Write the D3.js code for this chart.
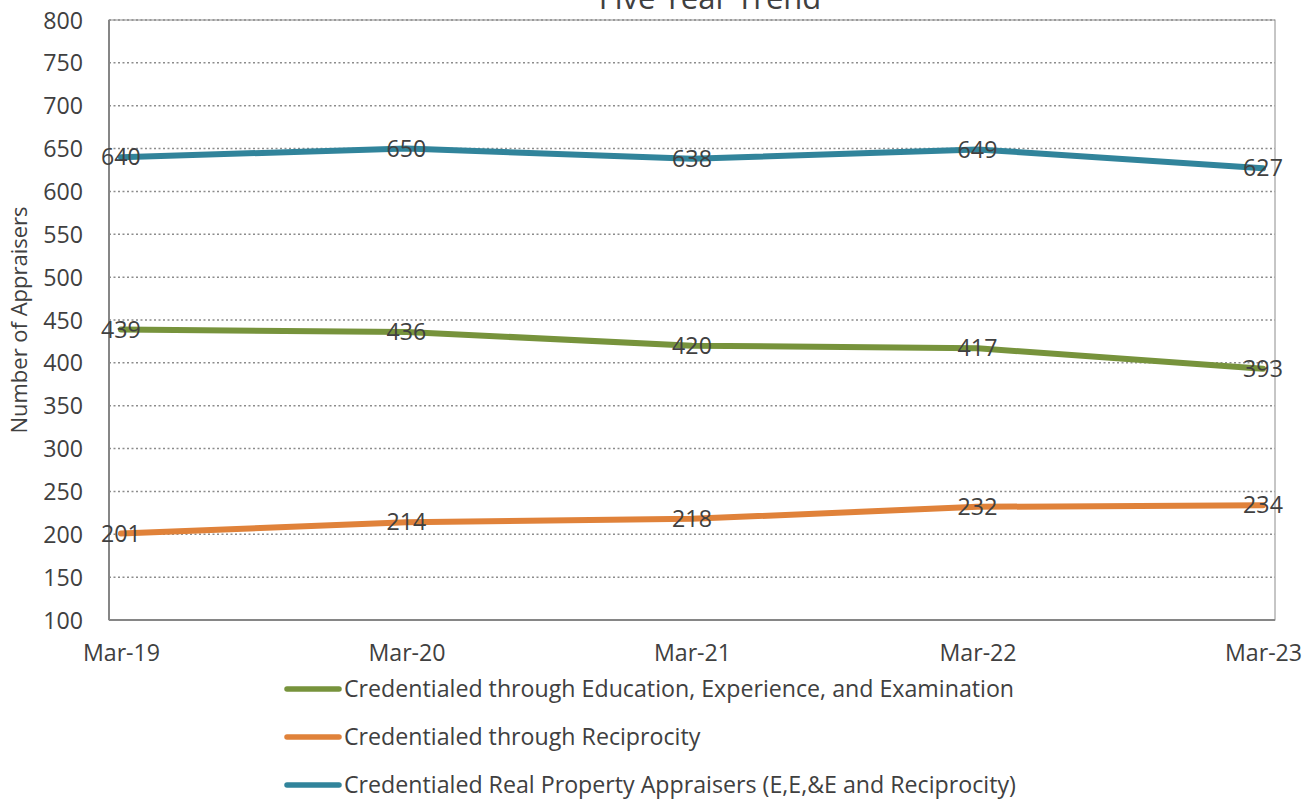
<!DOCTYPE html>
<html>
<head>
<meta charset="utf-8">
<script src="https://cdn.jsdelivr.net/npm/d3@7"></script>
<style>
  html, body { margin: 0; padding: 0; background: #fff; }
  svg { display: block; }
  svg text { font-family: "Open Sans", "Noto Sans", sans-serif; }
</style>
</head>
<body>
<svg id="chart" width="1315" height="801"></svg>
<script>
// Appraiser counts by year, March of each year
const periods = ["Mar-19", "Mar-20", "Mar-21", "Mar-22", "Mar-23"];
const eeeValues = [439, 436, 420, 417, 393];
const reciprocityValues = [201, 214, 218, 232, 234];
const totalValues = [640, 650, 638, 649, 627];
const yTicks = [100, 150, 200, 250, 300, 350, 400, 450, 500, 550, 600, 650, 700, 750, 800];

const seriesNames = [
  "Credentialed through Education, Experience, and Examination",
  "Credentialed through Reciprocity",
  "Credentialed Real Property Appraisers (E,E,&E and Reciprocity)"
];
const seriesColors = ["#77933c", "#e0823a", "#31849b"];

const series = [
  { name: seriesNames[0], color: seriesColors[0], values: eeeValues },
  { name: seriesNames[1], color: seriesColors[1], values: reciprocityValues },
  { name: seriesNames[2], color: seriesColors[2], values: totalValues }
];

const svg = d3.select("#chart");
const plot = { left: 109, right: 1275, top: 20, bottom: 620 };
const fontSize = "23.2px";

const x = d3.scalePoint()
  .domain(periods)
  .range([plot.left, plot.right])
  .padding(0.042);

const y = d3.scaleLinear()
  .domain([100, 800])
  .range([plot.bottom, plot.top]);

const textColor = "#404040";

// Dotted horizontal gridlines
svg.append("g")
  .selectAll("line")
  .data(yTicks.filter(t => t > 100))
  .join("line")
  .attr("x1", plot.left)
  .attr("x2", plot.right)
  .attr("y1", d => y(d))
  .attr("y2", d => y(d))
  .attr("stroke", "#8c8c8c")
  .attr("stroke-width", 1.5)
  .attr("stroke-dasharray", "2,2.5");

// Plot frame
svg.append("rect")
  .attr("x", plot.left)
  .attr("y", plot.top)
  .attr("width", plot.right - plot.left)
  .attr("height", plot.bottom - plot.top)
  .attr("fill", "none")
  .attr("stroke", "#8c8c8c")
  .attr("stroke-width", 1);

// Left and bottom axis lines
svg.append("line")
  .attr("x1", plot.left).attr("x2", plot.left)
  .attr("y1", plot.top).attr("y2", plot.bottom)
  .attr("stroke", "#868686").attr("stroke-width", 2);
svg.append("line")
  .attr("x1", plot.left).attr("x2", plot.right)
  .attr("y1", plot.bottom).attr("y2", plot.bottom)
  .attr("stroke", "#868686").attr("stroke-width", 2);

// Y axis
const yAxis = svg.append("g")
  .attr("transform", `translate(${plot.left},0)`)
  .call(d3.axisLeft(y).tickValues(yTicks).tickSize(0).tickPadding(26));
yAxis.attr("font-family", null).attr("font-size", null);
yAxis.select(".domain").remove();
yAxis.selectAll("text")
  .attr("fill", textColor)
  .style("font-size", fontSize)
  .attr("dy", "0.35em");

// X axis
const xAxis = svg.append("g")
  .attr("transform", `translate(0,${plot.bottom})`)
  .call(d3.axisBottom(x).tickSize(0).tickPadding(25));
xAxis.attr("font-family", null).attr("font-size", null);
xAxis.select(".domain").remove();
xAxis.selectAll("text")
  .attr("fill", textColor)
  .style("font-size", fontSize);

// Axis title
svg.append("text")
  .attr("transform", `translate(27,320) rotate(-90)`)
  .attr("text-anchor", "middle")
  .attr("fill", textColor)
  .style("font-size", "22px")
  .text("Number of Appraisers");

// Chart title
svg.append("text")
  .attr("x", 710)
  .attr("y", 9)
  .attr("text-anchor", "middle")
  .attr("fill", textColor)
  .style("font-size", "31px")
  .text("Five Year Trend");

// Series lines
const line = d3.line()
  .x((d, i) => x(periods[i]))
  .y(d => y(d));

svg.append("g")
  .selectAll("path")
  .data(series)
  .join("path")
  .attr("d", d => line(d.values))
  .attr("fill", "none")
  .attr("stroke", d => d.color)
  .attr("stroke-width", 6)
  .attr("stroke-linejoin", "round")
  .attr("stroke-linecap", "round");

// Data labels centred on each point
series.forEach(s => {
  svg.append("g")
    .selectAll("text")
    .data(s.values)
    .join("text")
    .attr("x", (d, i) => x(periods[i]))
    .attr("y", d => y(d))
    .attr("dy", "0.35em")
    .attr("text-anchor", "middle")
    .attr("fill", textColor)
    .style("font-size", fontSize)
    .text(d => d);
});

// Legend
const legend = svg.append("g")
  .selectAll("g")
  .data(series)
  .join("g")
  .attr("transform", (d, i) => `translate(0,${689 + i * 48})`);
legend.append("line")
  .attr("x1", 287).attr("x2", 339)
  .attr("stroke", d => d.color)
  .attr("stroke-width", 5.5)
  .attr("stroke-linecap", "round");
legend.append("text")
  .attr("x", 344)
  .attr("dy", "0.35em")
  .attr("fill", textColor)
  .style("font-size", fontSize)
  .text(d => d.name);
</script>
</body>
</html>
